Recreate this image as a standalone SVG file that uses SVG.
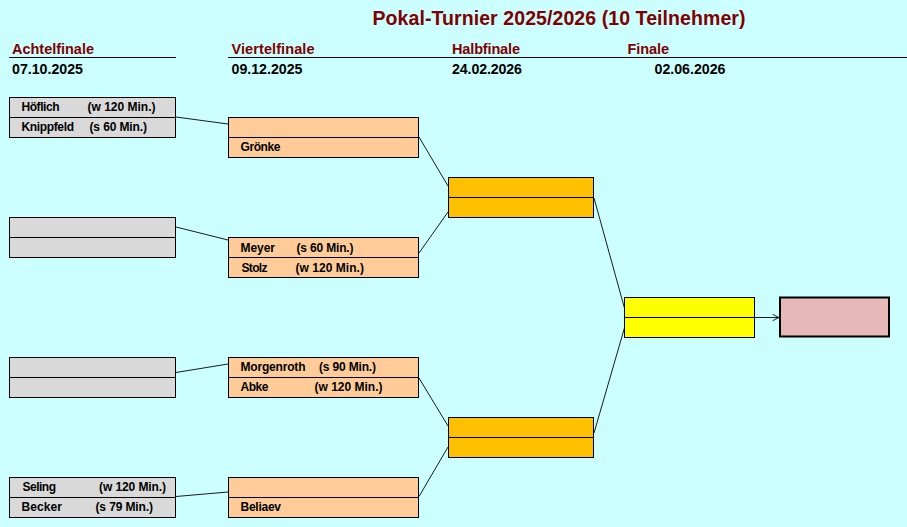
<svg xmlns="http://www.w3.org/2000/svg" width="907" height="527" viewBox="0 0 907 527">
  <defs>
    <style>
      text { font-family: "Liberation Sans", Arial, sans-serif; font-weight: bold; }
      .title { font-size: 19.5px; fill: #7f0000; }
      .round { font-size: 14.5px; fill: #7f0000; }
      .date { font-size: 14.2px; fill: #000; }
      .name { font-size: 12px; fill: #000; }
      .cell { stroke: #000; stroke-width: 1; }
      .af { fill: #d9d9d9; }
      .vf { fill: #ffcc99; }
      .hf { fill: #ffc000; }
      .fi { fill: #ffff00; }
      .win { fill: #e6b8b7; stroke: #000; stroke-width: 2; }
      .rule { stroke: #000; stroke-width: 1; }
      .conn line { stroke: #1a1a1a; stroke-width: 1; fill: none; }
    </style>
    <marker id="arr" viewBox="0 0 10 10" refX="9" refY="5" markerWidth="8" markerHeight="8" markerUnits="userSpaceOnUse" orient="auto">
      <path d="M1,1 L9,5 L1,9" fill="none" stroke="#1a1a1a" stroke-width="1.2"/>
    </marker>
  </defs>

  <rect x="0" y="0" width="907" height="527" fill="#ccffff"/>

  <g id="header">
    <text class="title" x="372.5" y="25.3" textLength="373">Pokal-Turnier 2025/2026 (10 Teilnehmer)</text>
    <text class="round" x="12" y="53.5" textLength="82">Achtelfinale</text>
    <text class="round" x="231.5" y="53.5" textLength="83">Viertelfinale</text>
    <text class="round" x="452" y="53.5" textLength="68">Halbfinale</text>
    <text class="round" x="627.5" y="53.5" textLength="41.5">Finale</text>
    <line class="rule" x1="9" y1="57.5" x2="176" y2="57.5"/>
    <line class="rule" x1="228" y1="57.5" x2="907" y2="57.5"/>
    <text class="date" x="12" y="73.8" textLength="71">07.10.2025</text>
    <text class="date" x="231.5" y="73.8" textLength="71">09.12.2025</text>
    <text class="date" x="452" y="73.8" textLength="70">24.02.2026</text>
    <text class="date" x="654.5" y="73.8" textLength="71">02.06.2026</text>
  </g>

  <g id="conn" class="conn">
    <line x1="176" y1="117" x2="228" y2="124"/>
    <line x1="176" y1="227" x2="228" y2="240"/>
    <line x1="176" y1="372.5" x2="228" y2="364"/>
    <line x1="176" y1="496.5" x2="228" y2="492"/>
    <line x1="419" y1="137" x2="448" y2="186"/>
    <line x1="419" y1="253" x2="448" y2="212"/>
    <line x1="419" y1="378" x2="448" y2="426"/>
    <line x1="419" y1="496.5" x2="448" y2="447"/>
    <line x1="594" y1="198" x2="625" y2="310"/>
    <line x1="594" y1="433" x2="625" y2="326"/>
    <line x1="754" y1="317.5" x2="779" y2="317.5" marker-end="url(#arr)"/>
  </g>

  <g id="af1">
    <rect class="cell af" x="9.5" y="97.5" width="166" height="20"/>
    <rect class="cell af" x="9.5" y="117.5" width="166" height="20"/>
    <text class="name" x="21.5" y="111" textLength="38">Höflich</text>
    <text class="name" x="87.5" y="111" textLength="68">(w 120 Min.)</text>
    <text class="name" x="21.5" y="131" textLength="52.5">Knippfeld</text>
    <text class="name" x="89.5" y="131" textLength="57.5">(s 60 Min.)</text>
  </g>
  <g id="af2">
    <rect class="cell af" x="9.5" y="217.5" width="166" height="20"/>
    <rect class="cell af" x="9.5" y="237.5" width="166" height="20"/>
  </g>
  <g id="af3">
    <rect class="cell af" x="9.5" y="357.5" width="166" height="20"/>
    <rect class="cell af" x="9.5" y="377.5" width="166" height="20"/>
  </g>
  <g id="af4">
    <rect class="cell af" x="9.5" y="477.5" width="166" height="20"/>
    <rect class="cell af" x="9.5" y="497.5" width="166" height="20"/>
    <text class="name" x="22.5" y="491" textLength="33.5">Seling</text>
    <text class="name" x="99" y="491" textLength="67">(w 120 Min.)</text>
    <text class="name" x="21.5" y="510.8" textLength="40.5">Becker</text>
    <text class="name" x="95.5" y="510.8" textLength="57.5">(s 79 Min.)</text>
  </g>

  <g id="vf1">
    <rect class="cell vf" x="228.5" y="117.5" width="190" height="20"/>
    <rect class="cell vf" x="228.5" y="137.5" width="190" height="20"/>
    <text class="name" x="240.5" y="150.5" textLength="40">Grönke</text>
  </g>
  <g id="vf2">
    <rect class="cell vf" x="228.5" y="237.5" width="190" height="20"/>
    <rect class="cell vf" x="228.5" y="257.5" width="190" height="20"/>
    <text class="name" x="240.5" y="251.5" textLength="34.5">Meyer</text>
    <text class="name" x="296.5" y="251.5" textLength="57">(s 60 Min.)</text>
    <text class="name" x="241.5" y="271.5" textLength="26">Stolz</text>
    <text class="name" x="295.5" y="271.5" textLength="68.5">(w 120 Min.)</text>
  </g>
  <g id="vf3">
    <rect class="cell vf" x="228.5" y="357.5" width="190" height="20"/>
    <rect class="cell vf" x="228.5" y="377.5" width="190" height="20"/>
    <text class="name" x="240.5" y="371" textLength="65">Morgenroth</text>
    <text class="name" x="319" y="371" textLength="57">(s 90 Min.)</text>
    <text class="name" x="240.5" y="390.8" textLength="28">Abke</text>
    <text class="name" x="314.5" y="390.8" textLength="68">(w 120 Min.)</text>
  </g>
  <g id="vf4">
    <rect class="cell vf" x="228.5" y="477.5" width="190" height="20"/>
    <rect class="cell vf" x="228.5" y="497.5" width="190" height="20"/>
    <text class="name" x="240.5" y="510.8" textLength="40.5">Beliaev</text>
  </g>

  <g id="hf1">
    <rect class="cell hf" x="448.5" y="177.5" width="145" height="20"/>
    <rect class="cell hf" x="448.5" y="197.5" width="145" height="20"/>
  </g>
  <g id="hf2">
    <rect class="cell hf" x="448.5" y="417.5" width="145" height="20"/>
    <rect class="cell hf" x="448.5" y="437.5" width="145" height="20"/>
  </g>

  <g id="final">
    <rect class="cell fi" x="624.5" y="297.5" width="130" height="20"/>
    <rect class="cell fi" x="624.5" y="317.5" width="130" height="20"/>
  </g>

  <g id="winner">
    <rect class="win" x="780" y="297.5" width="109" height="39"/>
  </g>
</svg>
